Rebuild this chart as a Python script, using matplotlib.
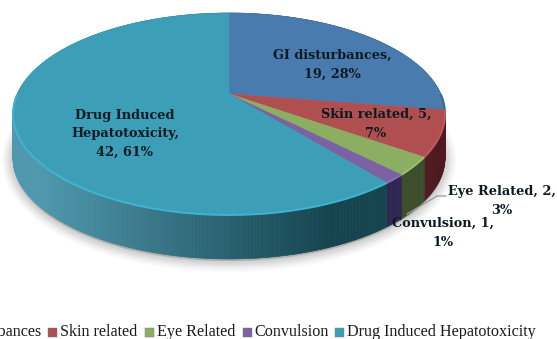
import numpy as np
import matplotlib
matplotlib.use("Agg")
import matplotlib.pyplot as plt
from matplotlib.colors import to_rgb
from matplotlib.patches import Polygon

categories = ["GI disturbances", "Skin related", "Eye Related", "Convulsion", "Drug Induced Hepatotoxicity"]
counts = [19, 5, 2, 1, 42]
percents = [28, 7, 3, 1, 61]
top_colors = ["#4a7bae", "#b04f50", "#8cae62", "#7b62a2", "#3d9eb8"]
rim_colors = ["#3c6690", "#c05a5a", "#9cc06c", "#8a70b4", "#3fb4d2"]
side_left = ["#2c4a70", "#4e1a20", "#3c4d2a", "#2e2752", "#4f98ae"]
side_right = ["#2c4a70", "#4e1a20", "#3c4d2a", "#2e2752", "#15444f"]

# Projection of the tilted disc onto the page, in pixel units
CX, CY, A, B, K, DEPTH = 229.0, 94.0, 211.7, 97.0, 0.198, 44.0


def project(theta):
    u, v = np.sin(theta), np.cos(theta)
    w = 1 + K * v
    return CX + A * u / w, CY - B * v / w


fig = plt.figure(figsize=(5.57, 3.39), dpi=100)
ax = fig.add_axes([0, 0, 1, 1])
ax.set_xlim(0, 557)
ax.set_ylim(339, 0)
ax.axis("off")

edges = np.cumsum([0] + counts) / sum(counts) * 2 * np.pi

# Soft drop shadow under the front of the disc
t = np.linspace(0, 2 * np.pi, 400)
xs, ys = project(t)
for grow, alpha in zip(np.linspace(16, 1, 10), [0.02] * 4 + [0.035] * 6):
    ax.add_patch(Polygon(np.c_[xs, ys + DEPTH + 2], closed=True, facecolor="#555555", edgecolor="#555555",
                         lw=grow, alpha=alpha, zorder=1, joinstyle="round"))

# Outer wall, drawn as thin strips so its shade can vary along the rim
for i in range(len(counts)):
    t = np.linspace(edges[i], edges[i + 1], max(int((edges[i + 1] - edges[i]) * 90), 3))
    x, y = project(t)
    c0, c1 = np.array(to_rgb(side_left[i])), np.array(to_rgb(side_right[i]))
    for j in range(len(t) - 1):
        # The lighter shade sits at the far left of the wall
        f = np.clip((x[j] - 40) / 290, 0, 1)
        col = c0 * (1 - f) + c1 * f
        quad = [(x[j], y[j]), (x[j + 1], y[j + 1]), (x[j + 1], y[j + 1] + DEPTH), (x[j], y[j] + DEPTH)]
        ax.add_patch(Polygon(quad, closed=True, facecolor=col, edgecolor=col, lw=0.5, zorder=2))

# Top face and bevelled rim of each slice
for i in range(len(counts)):
    t = np.linspace(edges[i], edges[i + 1], 200)
    x, y = project(t)
    ax.add_patch(Polygon(np.r_[[[CX, CY]], np.c_[x, y]], closed=True, facecolor=top_colors[i],
                         edgecolor=top_colors[i], lw=0.4, zorder=3))
    front = np.cos(t) < 0.0
    ax.plot(x[front], y[front], color=rim_colors[i], lw=1.4, zorder=4, solid_capstyle="butt")

# Data labels
label_font = dict(family="DejaVu Serif", fontweight="bold", fontsize=9.3, color="#0c1a22",
                  ha="center", va="center", linespacing=1.55, zorder=6)
label_text = [
    f"{categories[0]},\n{counts[0]}, {percents[0]}%",
    f"{categories[1]}, {counts[1]},\n{percents[1]}%",
    f"{categories[2]}, {counts[2]},\n{percents[2]}%",
    f"{categories[3]}, {counts[3]},\n{percents[3]}%",
    f"Drug Induced\nHepatotoxicity,\n{counts[4]}, {percents[4]}%",
]
label_pos = [(332, 65), (376, 124), (502, 201), (443, 233), (125, 134)]
for s, (lx, ly) in zip(label_text, label_pos):
    ax.text(lx, ly, s, **label_font)

# Leader line for the small slice label
ax.plot([446, 437, 407], [196, 196, 214], color="#9a9a9a", lw=0.9, zorder=5)

# Legend row; the first entry runs past the left edge of the canvas
swatch_x = [-74, 48, 145, 243, 335]
text_x = [-60, 60.5, 157, 254.5, 347]
LEGEND_Y = 332
for i, name in enumerate(categories):
    ax.add_patch(Polygon([(swatch_x[i], LEGEND_Y - 4.5), (swatch_x[i] + 9, LEGEND_Y - 4.5),
                          (swatch_x[i] + 9, LEGEND_Y + 4.5), (swatch_x[i], LEGEND_Y + 4.5)],
                         closed=True, facecolor=top_colors[i], edgecolor="#777777", lw=0.3, zorder=5))
    ax.text(text_x[i], LEGEND_Y, name, family="Liberation Serif", fontsize=11.6, color="#1a1a1a",
            ha="left", va="center", zorder=6)

fig.savefig("out.png", dpi=100)
